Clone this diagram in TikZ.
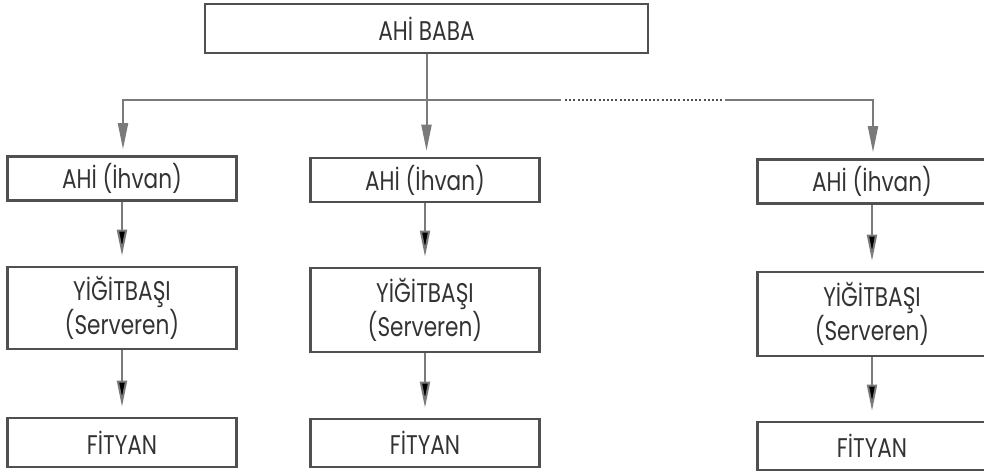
\documentclass[tikz,border=0pt]{standalone}
\usepackage{fontspec}
\setmainfont{Poppins}[FakeStretch=0.8]
\usetikzlibrary{arrows.meta}
\definecolor{boxline}{HTML}{505050}
\definecolor{linegray}{HTML}{7A7A7A}
\definecolor{textgray}{HTML}{333333}

\begin{document}
\begin{tikzpicture}[x=1pt,y=-1pt,every node/.style={draw=boxline,line width=2.6pt,rectangle,inner sep=0pt,fill=white,minimum width=229pt,minimum height=44pt,text=textgray,align=center,font=\fontsize{27}{24}\selectfont},
            arr/.style={draw=linegray,line width=2pt,-{Triangle[length=26pt,width=10pt]}}]
            \useasboundingbox (0,0) rectangle (984,474);

            \node (baba) at (426.5,28.5) [minimum width=443pt,minimum height=49pt] {AHİ BABA};

            \node (ahi1) at (122,178.5) {AHİ (İhvan)};
            \node (ahi2) at (425,180) {AHİ (İhvan)};
            \node (ahi3) at (872,181.5) {AHİ (İhvan)};

            \node (yig1) at (122,308) [minimum height=82pt] {YİĞİTBAŞI\\(Serveren)};
            \node (yig2) at (425,310) [minimum height=84pt] {YİĞİTBAŞI\\(Serveren)};
            \node (yig3) at (872,314) [minimum height=84pt] {YİĞİTBAŞI\\(Serveren)};

            \node (fit1) at (122,442.5) [minimum height=49pt] {FİTYAN};
            \node (fit2) at (425,443) [minimum height=48pt] {FİTYAN};
            \node (fit3) at (872,446) [minimum height=48pt] {FİTYAN};

            \coordinate (j1) at (123,100);
            \coordinate (j3) at (873,100);
            \coordinate (dotA) at (561,100);
            \coordinate (dotB) at (725,100);

            \path [arr,shorten >=6pt] (dotA) -- (j1) -- (j1 |- ahi1.north);
            \path [arr,shorten >=6pt] (dotB) -- (j3) -- (j3 |- ahi3.north);
            \path [draw=boxline,line width=2.6pt,dash pattern=on 2pt off 2.2pt,shorten <=4pt,shorten >=3pt] (dotA) -- (dotB);
            \path [arr,shorten >=6pt] (baba.south) -- (baba.south |- ahi2.north);

            \path [arr,shorten >=10pt] (ahi1) edge (yig1);
            \path [arr,shorten >=10pt] (ahi2) edge (yig2);
            \path [arr,shorten >=10pt] (ahi3) edge (yig3);
            \path [arr,shorten >=10pt] (yig1) edge (fit1);
            \path [arr,shorten >=10pt] (yig2) edge (fit2);
            \path [arr,shorten >=10pt] (yig3) edge (fit3);
        \end{tikzpicture}
\end{document}
